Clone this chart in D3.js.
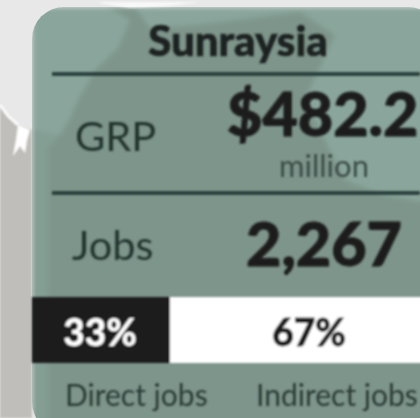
<!DOCTYPE html>
<html>
<head>
<meta charset="utf-8">
<script src="https://d3js.org/d3.v7.min.js"></script>
<style>
html, body { margin: 0; padding: 0; background: #e7e8e7; overflow: hidden; }
svg { display: block; }
text { font-family: Lato, "Open Sans", sans-serif; }
</style>
</head>
<body>
<svg id="canvas" width="420" height="418"></svg>
<script>
let regionName = 'Sunraysia'
let rowLabels = ['GRP', 'Jobs']
let rowValues = ['$482.2', '2,267']
let grpUnit = 'million'
let shareLabels = ['Direct jobs', 'Indirect jobs']
let shareValues = [33, 67]

let width = 420
let height = 418

let canvas = d3.select('#canvas')
let defs = canvas.append('defs')
defs.append('filter').attr('id', 'soft')
    .append('feGaussianBlur').attr('stdDeviation', 0.8)
defs.append('filter').attr('id', 'softer')
    .append('feGaussianBlur').attr('stdDeviation', 2.5)
defs.append('clipPath').attr('id', 'panel')
    .append('rect').attr('x', 32).attr('y', 7).attr('width', 408).attr('height', 427).attr('rx', 32)

let x = d3.scaleLinear().domain([0, 100]).range([32, 450])

// background map behind the panel
let bg = canvas.append('g').attr('filter', 'url(#soft)')
bg.append('rect').attr('width', width).attr('height', height).attr('fill', '#e7e8e7')
bg.append('path')
    .attr('d', 'M0,105 L8,116 L18,125 L32,130 L32,418 L0,418 Z')
    .attr('fill', '#c0beba')
bg.append('path')
    .attr('d', 'M0,105 L8,116 L18,125')
    .attr('fill', 'none').attr('stroke', '#fff').attr('stroke-width', 2.5)
bg.append('path')
    .attr('d', 'M18,125 L30,130 L27,140 L25,153 L20,146 L13,156 L16,140 Z')
    .attr('fill', '#fff')

let panel = canvas.append('g').attr('clip-path', 'url(#panel)')
let map = panel.append('g').attr('filter', 'url(#softer)')
map.append('rect').attr('x', 32).attr('y', 7).attr('width', 420).attr('height', 430).attr('fill', '#8aa69c')
// darker irrigation region across the middle
map.append('path')
    .attr('d', 'M108,7 L130,20 L118,48 L95,70 L78,100 L70,118 L60,135 L32,130 L32,440 L440,440 L440,205 L385,195 L345,180 L305,100 L320,68 L335,35 L300,12 L195,25 L150,28 L135,7 Z')
    .attr('fill', '#7e958b')
map.append('path')
    .attr('d', 'M32,130 L60,135 L48,148 L48,440 L32,440 Z')
    .attr('fill', '#849e94')
panel.append('line')
    .attr('x1', 49).attr('x2', 49).attr('y1', 140).attr('y2', 418)
    .attr('stroke', '#92aca3').attr('stroke-width', 1.5).attr('filter', 'url(#soft)')
panel.append('line')
    .attr('x1', 385).attr('x2', 385).attr('y1', 195).attr('y2', 418)
    .attr('stroke', '#92aca3').attr('stroke-width', 1.5).attr('filter', 'url(#soft)')

canvas.append('path')
    .attr('d', 'M100,3 L130,8 L170,6 L200,2 L100,2 Z')
    .attr('fill', '#fff').attr('opacity', 0.7).attr('filter', 'url(#soft)')

let content = canvas.append('g').attr('filter', 'url(#soft)')

content.append('text')
    .attr('x', 238).attr('y', 56)
    .attr('text-anchor', 'middle')
    .attr('font-size', 42).attr('font-weight', 900)
    .attr('fill', '#1d2321')
    .attr('stroke', '#1d2321').attr('stroke-width', 0.6)
    .text(regionName)

// rules between the rows
content.selectAll('.rule')
    .data([74, 193])
    .enter()
    .append('line')
    .attr('class', 'rule')
    .attr('x1', 52).attr('x2', 420)
    .attr('y1', (d) => d).attr('y2', (d) => d)
    .attr('stroke', '#243630').attr('stroke-width', 3.5)

content.selectAll('.rowLabel')
    .data(rowLabels)
    .enter()
    .append('text')
    .attr('class', 'rowLabel')
    .attr('x', (d, i) => [75, 72][i])
    .attr('y', (d, i) => [151, 260][i])
    .attr('font-size', 41.5)
    .attr('fill', '#24352f')
    .text((d) => d)

content.selectAll('.rowValue')
    .data(rowValues)
    .enter()
    .append('text')
    .attr('class', 'rowValue')
    .attr('x', (d, i) => [227, 246][i])
    .attr('y', (d, i) => [136, 266][i])
    .attr('font-size', (d, i) => [61, 61][i])
    .attr('font-weight', 900)
    .attr('fill', '#1c1d1d')
    .attr('stroke', '#1c1d1d').attr('stroke-width', 1)
    .text((d) => d)

content.append('text')
    .attr('x', 324).attr('y', 177)
    .attr('text-anchor', 'middle')
    .attr('font-size', 31)
    .attr('fill', '#3a4b46')
    .text(grpUnit)

// direct / indirect share bar
let starts = d3.cumsum([0].concat(shareValues.slice(0, -1)))
content.selectAll('.share')
    .data(shareValues)
    .enter()
    .append('rect')
    .attr('class', 'share')
    .attr('x', (d, i) => x(starts[i]))
    .attr('y', 297)
    .attr('width', (d) => x(d) - x(0))
    .attr('height', 66)
    .attr('fill', (d, i) => ['#1a1a1a', '#ffffff'][i])

content.selectAll('.shareValue')
    .data(shareValues)
    .enter()
    .append('text')
    .attr('class', 'shareValue')
    .attr('x', (d, i) => [100, 309][i])
    .attr('y', 346)
    .attr('text-anchor', 'middle')
    .attr('font-size', 37)
    .attr('font-weight', 900)
    .attr('fill', (d, i) => ['#ffffff', '#1e1e1e'][i])
    .attr('stroke', (d, i) => ['none', '#1e1e1e'][i])
    .attr('stroke-width', 0.8)
    .text((d) => d + '%')

content.selectAll('.shareLabel')
    .data(shareLabels)
    .enter()
    .append('text')
    .attr('class', 'shareLabel')
    .attr('x', (d, i) => [65, 256][i])
    .attr('y', 406)
    .attr('font-size', 30)
    .attr('fill', '#2a3b36')
    .text((d) => d)
</script>
</body>
</html>
